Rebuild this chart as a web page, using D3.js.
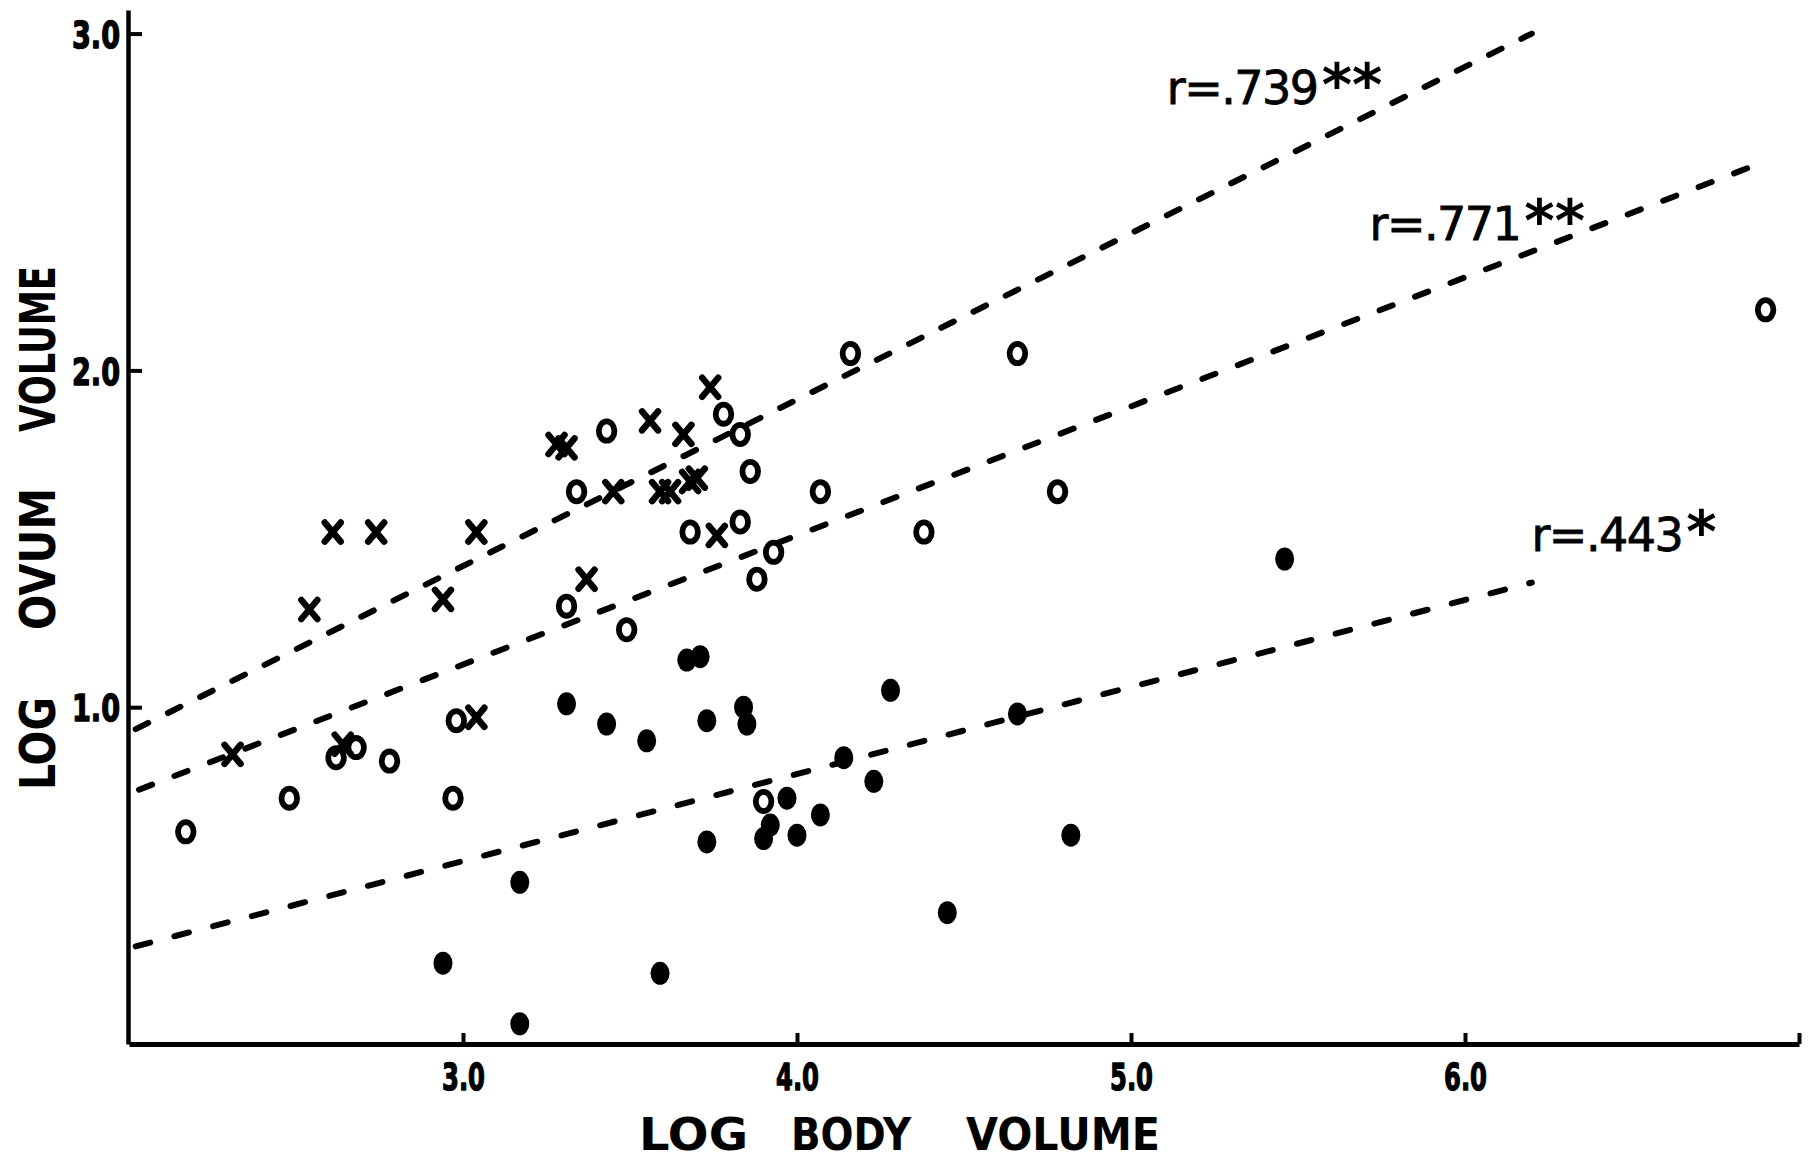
<!DOCTYPE html>
<html>
<head>
<meta charset="utf-8">
<script src="https://cdn.jsdelivr.net/npm/d3@7"></script>
<style>
  html, body { margin: 0; padding: 0; background: #fff; }
  svg { display: block; }
</style>
</head>
<body>
<svg id="chart" width="1820" height="1161"></svg>
<script>
// Log ovum volume against log body volume for three groups of species,
// each with its fitted regression line and correlation coefficient.

const xTicks = [3.0, 4.0, 5.0, 6.0, 7.0];
const yTicks = [1.0, 2.0, 3.0];

// group drawn as open rings "o"
const openPoints = [
  [2.17, 0.63], [2.48, 0.73], [2.62, 0.85], [2.68, 0.88], [2.78, 0.84],
  [2.98, 0.96], [2.97, 0.73], [3.31, 1.30], [3.49, 1.23], [3.34, 1.64],
  [3.43, 1.82], [3.78, 1.87], [3.83, 1.81], [3.86, 1.70], [3.68, 1.52],
  [3.83, 1.55], [3.93, 1.46], [3.88, 1.38], [4.07, 1.64], [4.16, 2.05],
  [4.38, 1.52], [4.66, 2.05], [4.78, 1.64], [6.90, 2.18], [3.90, 0.72]
];

// group drawn as crosses "x"
const crossPoints = [
  [2.31, 0.86], [2.54, 1.29], [2.61, 1.52], [2.74, 1.52], [2.94, 1.32],
  [3.04, 1.52], [3.04, 0.97], [2.64, 0.89], [3.28, 1.78], [3.31, 1.77],
  [3.37, 1.38], [3.45, 1.64], [3.56, 1.85], [3.66, 1.81], [3.74, 1.95],
  [3.59, 1.64], [3.62, 1.64], [3.68, 1.67], [3.70, 1.68], [3.76, 1.51]
];

// group drawn as solid dots
const filledPoints = [
  [3.31, 1.01], [3.43, 0.95], [3.55, 0.90], [3.67, 1.14], [3.71, 1.15],
  [3.73, 0.96], [3.84, 1.00], [3.85, 0.95], [4.28, 1.05], [4.66, 0.98],
  [4.14, 0.85], [4.23, 0.78], [3.97, 0.73], [4.07, 0.68], [3.92, 0.65],
  [3.90, 0.61], [4.00, 0.62], [3.73, 0.60], [4.82, 0.62], [4.45, 0.39],
  [5.46, 1.44], [3.17, 0.48], [2.94, 0.24], [3.17, 0.06], [3.59, 0.21]
];

// regression lines: correlation text, significance stars, end points
const fitLabels = ["r=.739", "r=.771", "r=.443"];
const fitStars  = ["**", "**", "*"];
const fitStart  = [[2.02, 0.935], [2.03, 0.755], [2.02, 0.29]];
const fitEnd    = [[6.20, 3.00], [6.91, 2.625], [6.20, 1.37]];

// ---- layout ----
const svg = d3.select("#chart");
const x = d3.scaleLinear().domain([2, 7]).range([129, 1799]);
const y = d3.scaleLinear().domain([0, 3.07]).range([1044, 10]);
const FONT = "'DejaVu Sans', 'Liberation Sans', sans-serif";
const INK = "#000";

// where each r= label sits (data units)
const labelAt  = [[5.107, 2.791], [5.714, 2.387], [6.199, 1.464]];
const lineDash = ["14 22", "14 24", "15 25"];

// ---- regression lines ----
const lineGen = d3.line().x(d => x(d[0])).y(d => y(d[1]));
svg.append("g").attr("class", "fits")
  .selectAll("path")
  .data(fitStart.map((s, i) => [s, fitEnd[i]]))
  .join("path")
  .attr("d", lineGen)
  .attr("fill", "none")
  .attr("stroke", INK)
  .attr("stroke-width", 6)
  .attr("stroke-linecap", "round")
  .attr("stroke-dasharray", (d, i) => lineDash[i]);

// ---- axes ----
const yAxis = d3.axisLeft(y)
  .tickValues(yTicks)
  .tickSize(-14)
  .tickSizeOuter(0)
  .tickPadding(8)
  .tickFormat(d3.format(".1f"));

const gy = svg.append("g")
  .attr("transform", `translate(${x(2) - 1},0)`)
  .attr("font-size", 38)
  .call(yAxis);
gy.attr("font-size", 38).attr("font-family", FONT).attr("font-weight", "bold");
gy.select(".domain").attr("stroke", INK).attr("stroke-width", 4.5);
gy.selectAll(".tick line").attr("stroke", INK).attr("stroke-width", 4);
gy.selectAll(".tick text")
  .attr("fill", INK)
  .attr("stroke", INK)
  .attr("stroke-width", 1.5)
  .attr("stroke-linejoin", "round")
  .attr("dy", "0.36em")
  .attr("textLength", 48)
  .attr("lengthAdjust", "spacingAndGlyphs");

const xAxis = d3.axisBottom(x)
  .tickValues(xTicks)
  .tickSize(-11)
  .tickSizeOuter(0)
  .tickFormat(d => d === 7 ? "" : d3.format(".1f")(d));

const gx = svg.append("g")
  .attr("transform", `translate(0,${y(0)})`)
  .call(xAxis);
gx.attr("font-size", 37).attr("font-family", FONT).attr("font-weight", "bold");
gx.select(".domain").attr("stroke", INK).attr("stroke-width", 5);
gx.selectAll(".tick line").attr("stroke", INK).attr("stroke-width", 4);
gx.selectAll(".tick text")
  .filter(d => d !== 7)
  .attr("fill", INK)
  .attr("stroke", INK)
  .attr("stroke-width", 1.4)
  .attr("stroke-linejoin", "round")
  .attr("y", 46)
  .attr("dy", 0)
  .attr("textLength", 43)
  .attr("lengthAdjust", "spacingAndGlyphs");

// ---- axis titles ----
const xTitleWords = [
  { t: "LOG",    x0: 639, len: 109 },
  { t: "BODY",   x0: 791, len: 120 },
  { t: "VOLUME", x0: 966, len: 194 }
];
svg.append("g").selectAll("text")
  .data(xTitleWords)
  .join("text")
  .attr("x", d => d.x0)
  .attr("y", 1150)
  .attr("textLength", d => d.len)
  .attr("lengthAdjust", "spacingAndGlyphs")
  .attr("fill", INK)
  .style("font-family", FONT)
  .style("font-weight", "bold")
  .style("font-size", "45px")
  .text(d => d.t);

const yTitleWords = [
  { t: "LOG",    y0: 790, len: 93 },
  { t: "OVUM",   y0: 630, len: 142 },
  { t: "VOLUME", y0: 432, len: 166 }
];
svg.append("g")
  .attr("transform", "translate(55,0) rotate(-90)")
  .selectAll("text")
  .data(yTitleWords)
  .join("text")
  .attr("x", d => -d.y0)
  .attr("y", 0)
  .attr("textLength", d => d.len)
  .attr("lengthAdjust", "spacingAndGlyphs")
  .attr("fill", INK)
  .style("font-family", FONT)
  .style("font-weight", "bold")
  .style("font-size", "49px")
  .text(d => d.t);

// ---- data marks ----
const marks = svg.append("g").attr("class", "marks");

marks.append("g").selectAll("ellipse")
  .data(filledPoints)
  .join("ellipse")
  .attr("cx", d => x(d[0]))
  .attr("cy", d => y(d[1]))
  .attr("rx", 9.5)
  .attr("ry", 11.5)
  .attr("fill", INK);

marks.append("g").selectAll("ellipse")
  .data(openPoints)
  .join("ellipse")
  .attr("cx", d => x(d[0]))
  .attr("cy", d => y(d[1]))
  .attr("rx", 7.8)
  .attr("ry", 9.6)
  .attr("fill", "none")
  .attr("stroke", INK)
  .attr("stroke-width", 5.8);

marks.append("g").selectAll("path")
  .data(crossPoints)
  .join("path")
  .attr("transform", d => `translate(${x(d[0])},${y(d[1])})`)
  .attr("d", "M-8,-9.5L8,9.5M8,-9.5L-8,9.5")
  .attr("fill", "none")
  .attr("stroke", INK)
  .attr("stroke-width", 6.5)
  .attr("stroke-linecap", "round");

// ---- correlation labels: value plus raised significance stars ----
const labels = svg.append("g").attr("class", "fit-labels");
fitLabels.forEach((lab, i) => {
  const t = labels.append("text")
    .attr("x", x(labelAt[i][0]))
    .attr("y", y(labelAt[i][1]))
    .attr("fill", INK)
    .style("font-family", FONT);
  t.append("tspan")
    .attr("stroke", INK)
    .attr("stroke-width", 0.8)
    .style("font-size", "46px")
    .style("letter-spacing", "-1.5px")
    .text(lab);
  t.append("tspan")
    .attr("dx", 4)
    .attr("dy", 1)
    .style("font-weight", "bold")
    .style("font-size", "58px")
    .text(fitStars[i]);
});
</script>
</body>
</html>
